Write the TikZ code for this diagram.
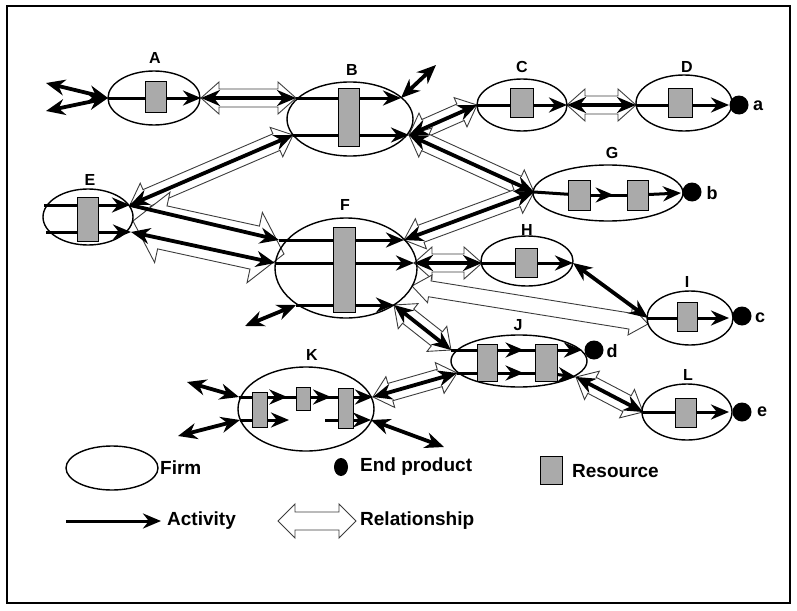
\documentclass[tikz,border=0pt]{standalone}
\usepackage{fontspec}
\setmainfont{Liberation Sans}
\usetikzlibrary{arrows.meta,shapes.geometric,calc,decorations.markings}
\pgfdeclarelayer{rels}
\pgfdeclarelayer{acts}
\pgfsetlayers{rels,acts,main}

\definecolor{resgray}{RGB}{170,170,170}
\definecolor{relgray}{RGB}{60,60,60}

\tikzset{
  firm/.style={ellipse, draw, line width=1.4pt, inner sep=0pt, outer sep=0pt},
  res/.style={draw, line width=0.9pt, fill=resgray, inner sep=0pt, outer sep=0pt},
  endprod/.style={circle, fill=black, inner sep=0pt, outer sep=0pt, minimum size=19pt},
  lab/.style={font=\bfseries\fontsize{16}{16}\selectfont, inner sep=0pt},
  leglab/.style={font=\bfseries\fontsize{19}{19}\selectfont, inner sep=0pt, anchor=west},
  actline/.style={line width=3pt},
  act/.style={line width=3pt, -{Stealth[length=18pt,width=15pt]}},
  linkone/.style={line width=3.8pt, -{Stealth[length=19pt,width=16pt]}},
  link/.style={line width=3.8pt, {Stealth[length=19pt,width=16pt]}-{Stealth[length=19pt,width=16pt]}},
  midarrow/.style={postaction={decorate}, decoration={markings,
      mark=at position #1 with {\arrow{Stealth[length=18pt,width=15pt]}}}},
  midarrow/.default=0.6,
  relshape/.style={draw=relgray, fill=white, line width=0.9pt, line join=miter},
}

% hollow double-headed arrow between two points:
% #1 from, #2 to, #3 shaft half width, #4 head half width, #5 head length
\newcommand\relarrowx[5]{%
  \draw[relshape] (#1)
    -- ($(#1)!#5!(#2)!#4!90:(#2)$) -- ($(#1)!#5!(#2)!#3!90:(#2)$)
    -- ($(#2)!#5!(#1)!#3!-90:(#1)$) -- ($(#2)!#5!(#1)!#4!-90:(#1)$)
    -- (#2)
    -- ($(#2)!#5!(#1)!#4!90:(#1)$) -- ($(#2)!#5!(#1)!#3!90:(#1)$)
    -- ($(#1)!#5!(#2)!#3!-90:(#2)$) -- ($(#1)!#5!(#2)!#4!-90:(#2)$)
    -- cycle;}
\newcommand\relarrow[2]{\relarrowx{#1}{#2}{9pt}{16pt}{18pt}}

\begin{document}
\begin{tikzpicture}[x=1pt,y=-1pt]
\useasboundingbox (0,0) rectangle (797,610);
\draw[line width=1.5pt] (7,6) rectangle (790,603);

% ---------- firms ----------
\node[firm, minimum width=92pt,  minimum height=54pt]  (A) at (154,98)  {};
\node[firm, minimum width=126pt, minimum height=74pt]  (B) at (350,119) {};
\node[firm, minimum width=90pt,  minimum height=52pt]  (C) at (522,105) {};
\node[firm, minimum width=96pt,  minimum height=56pt]  (D) at (684,103) {};
\node[firm, minimum width=90pt,  minimum height=56pt]  (E) at (88,217)  {};
\node[firm, minimum width=142pt, minimum height=100pt] (F) at (346,268) {};
\node[firm, minimum width=150pt, minimum height=56pt]  (G) at (608,193) {};
\node[firm, minimum width=92pt,  minimum height=50pt]  (H) at (527,261) {};
\node[firm, minimum width=86pt,  minimum height=54pt]  (I) at (690,318) {};
\node[firm, minimum width=136pt, minimum height=52pt]  (J) at (519,361) {};
\node[firm, minimum width=136pt, minimum height=84pt]  (K) at (306,409) {};
\node[firm, minimum width=90pt,  minimum height=56pt]  (L) at (687,412) {};

% ---------- firm labels ----------
\node[lab] (labA) at (155,58)  {A};
\node[lab] (labB) at (352,70)  {B};
\node[lab] (labC) at (522,67)  {C};
\node[lab] (labD) at (687,67)  {D};
\node[lab] (labE) at (90,180)  {E};
\node[lab] (labF) at (345,205) {F};
\node[lab] (labG) at (612,153) {G};
\node[lab] (labH) at (527,230) {H};
\node[lab] (labI) at (687,282) {I};
\node[lab] (labJ) at (518,325) {J};
\node[lab] (labK) at (312,355) {K};
\node[lab] (labL) at (688,375) {L};

% ---------- resources ----------
\node[res, minimum width=21pt, minimum height=31pt] (A1) at (155.5,96.5) {};
\node[res, minimum width=21pt, minimum height=58pt] (B1) at (348.5,117) {};
\node[res, minimum width=23pt, minimum height=29pt] (C1) at (521.5,102.5) {};
\node[res, minimum width=24pt, minimum height=29pt] (D1) at (680,102.5) {};
\node[res, minimum width=21pt, minimum height=44pt] (E1) at (87.5,219) {};
\node[res, minimum width=22pt, minimum height=85pt] (F1) at (344,269.5) {};
\node[res, minimum width=22pt, minimum height=30pt] (G1) at (579,195) {};
\node[res, minimum width=21pt, minimum height=30pt] (G2) at (637.5,195) {};
\node[res, minimum width=22pt, minimum height=29pt] (H1) at (526,262.5) {};
\node[res, minimum width=20pt, minimum height=29pt] (I1) at (687,316.5) {};
\node[res, minimum width=20pt, minimum height=37pt] (J1) at (487,362.5) {};
\node[res, minimum width=22pt, minimum height=37pt] (J2) at (546,362.5) {};
\node[res, minimum width=15pt, minimum height=35pt] (K1) at (259.5,409.5) {};
\node[res, minimum width=14pt, minimum height=23pt] (K2) at (303,398.5) {};
\node[res, minimum width=15pt, minimum height=40pt] (K3) at (345.5,408) {};
\node[res, minimum width=21pt, minimum height=29pt] (L1) at (685.5,412.5) {};

% ---------- end products ----------
\node[endprod] (pa) at (739,105) {};
\node[endprod] (pb) at (692,192) {};
\node[endprod] (pc) at (742,316) {};
\node[endprod] (pd) at (594,350) {};
\node[endprod] (pe) at (742,412) {};
\node[lab, font=\bfseries\fontsize{18}{18}\selectfont] (la) at (758,106) {a};
\node[lab, font=\bfseries\fontsize{18}{18}\selectfont] (lb) at (712,193) {b};
\node[lab, font=\bfseries\fontsize{18}{18}\selectfont] (lc) at (760,318) {c};
\node[lab, font=\bfseries\fontsize{18}{18}\selectfont] (ld) at (612,351) {d};
\node[lab, font=\bfseries\fontsize{18}{18}\selectfont] (le) at (762,412) {e};

% ---------- attachment points ----------
\coordinate (aL) at (108,98);   \coordinate (aR) at (201,98);
\coordinate (aX1) at (46,83);   \coordinate (aX2) at (46,111);
\coordinate (bUL) at (296,98);  \coordinate (bUR) at (401,98);
\coordinate (bLL) at (293,135); \coordinate (bLR) at (409,135);
\coordinate (bX) at (436,65);
\coordinate (cL) at (477,105);  \coordinate (cR) at (567,105);
\coordinate (dL) at (636,105);  \coordinate (dR) at (729,105);
\coordinate (eUL) at (44,205);  \coordinate (eUR) at (130,205);
\coordinate (eLL) at (46,232);  \coordinate (eLR) at (131,232);
\coordinate (fUL) at (279,240); \coordinate (fUR) at (404,240);
\coordinate (fML) at (275,263); \coordinate (fMR) at (414,263);
\coordinate (fLL) at (296,305); \coordinate (fLR) at (394,305);
\coordinate (fX) at (245,326);
\coordinate (gL) at (534,192);  \coordinate (gR) at (681,193);
\coordinate (hL) at (482,263);  \coordinate (hR) at (573,263);
\coordinate (iL) at (648,318);  \coordinate (iR) at (729,318);
\coordinate (jUL) at (451,350); \coordinate (jUR) at (582,350);
\coordinate (jLL) at (457,373); \coordinate (jLR) at (576,377);
\coordinate (kUL) at (239,397); \coordinate (kUR) at (373,397);
\coordinate (kLL) at (240,420); \coordinate (kLR) at (371,420);
\coordinate (kLe) at (289,420); \coordinate (kLm) at (325,420);
\coordinate (kX1) at (187,382); \coordinate (kX2) at (178,436);
\coordinate (kX3) at (444,447);
\coordinate (lL) at (643,412);  \coordinate (lR) at (729,412);
\coordinate (efA) at (133,221); \coordinate (efB) at (284,254);
\coordinate (fiA) at (412,286); \coordinate (fiB) at (648,324);

% ---------- relationships ----------
\begin{pgfonlayer}{rels}
  \relarrow{aR}{bUL}
  \relarrow{bLR}{cL}
  \relarrow{cR}{dL}
  \relarrow{bLR}{gL}
  \relarrow{eUR}{bLL}
  \relarrow{fUR}{gL}
  \relarrow{fMR}{hL}
  \relarrow{fLR}{jUL}
  \relarrow{kUR}{jLL}
  \relarrow{jLR}{lL}
  \relarrowx{efA}{efB}{22pt}{36pt}{30pt}
  \relarrowx{fiA}{fiB}{8pt}{14pt}{18pt}
\end{pgfonlayer}

% ---------- activities ----------
\begin{pgfonlayer}{acts}
  % A
  \draw[act] (aL) -- (aR);
  \draw[link] (aX1) -- (aL);
  \draw[link] (aX2) -- (aL);
  \draw[link] (aR) -- (bUL);
  % B
  \draw[act] (bUL) -- (bUR);
  \draw[act] (bLL) -- (bLR);
  \draw[link] (bUR) -- (bX);
  \draw[link] (bLR) -- (cL);
  \draw[link] (bLR) -- (gL);
  % C, D
  \draw[act] (cL) -- (cR);
  \draw[link] (cR) -- (dL);
  \draw[act] (dL) -- (dR);
  % E
  \draw[act] (eUL) -- (eUR);
  \draw[act] (eLL) -- (eLR);
  \draw[link] (eUR) -- (bLL);
  \draw[linkone] (eUR) -- (fUL);
  \draw[link] (eLR) -- (fML);
  % F
  \draw[act] (fUL) -- (fUR);
  \draw[act] (fML) -- (fMR);
  \draw[act] (fLL) -- (fLR);
  \draw[link] (fX) -- (fLL);
  \draw[link] (fUR) -- (gL);
  \draw[link] (fMR) -- (hL);
  \draw[link] (fLR) -- (jUL);
  % G
  \draw[actline] (gL) -- (G1);
  \draw[actline, midarrow=0.64] (G1) -- (G2);
  \draw[act] (G2) -- (gR);
  % H, I
  \draw[act] (hL) -- (hR);
  \draw[link] (hR) -- (iL);
  \draw[act] (iL) -- (iR);
  % J
  \draw[actline] (jUL) -- (J1 |- jUL);
  \draw[actline, midarrow=0.62] (J1 |- jUL) -- (J2 |- jUL);
  \draw[act] (J2 |- jUL) -- (jUR);
  \draw[actline] (jLL) -- (J1 |- jLL);
  \draw[actline, midarrow=0.62] (J1 |- jLL) -- (J2 |- jLL);
  \draw[act] (J2 |- jLL) -- (jLR);
  \draw[link] (jLR) -- (lL);
  % K
  \draw[actline] (kUL) -- (K1 |- kUL);
  \draw[actline, midarrow=0.64] (K1 |- kUL) -- (K2 |- kUL);
  \draw[actline, midarrow=0.66] (K2 |- kUL) -- (K3 |- kUL);
  \draw[act] (K3 |- kUL) -- (kUR);
  \draw[act] (kLL) -- (kLe);
  \draw[act] (kLm) -- (kLR);
  \draw[link] (kX1) -- (kUL);
  \draw[link] (kX2) -- (kLL);
  \draw[link] (kLR) -- (kX3);
  \draw[link] (kUR) -- (jLL);
  % L
  \draw[act] (lL) -- (lR);
\end{pgfonlayer}

% ---------- legend ----------
\node[firm, minimum width=92pt, minimum height=44pt] (lgFirm) at (112,468) {};
\node[leglab] (lgFirmT) at (160,468) {Firm};
\node[endprod, ellipse, minimum width=14pt, minimum height=18pt] (lgEnd) at (341,467) {};
\node[leglab] (lgEndT) at (360,467) {End product};
\node[res, minimum width=22pt, minimum height=28pt] (lgRes) at (551,470) {};
\node[leglab] (lgResT) at (572,471) {Resource};
\coordinate (lgA1) at (66,521); \coordinate (lgA2) at (161,521);
\draw[act] (lgA1) -- (lgA2);
\node[leglab] (lgActT) at (167,521) {Activity};
\coordinate (lgR1) at (278,521); \coordinate (lgR2) at (356,521);
\relarrowx{lgR1}{lgR2}{9pt}{17pt}{17pt}
\node[leglab] (lgRelT) at (360,521) {Relationship};
\end{tikzpicture}
\end{document}
